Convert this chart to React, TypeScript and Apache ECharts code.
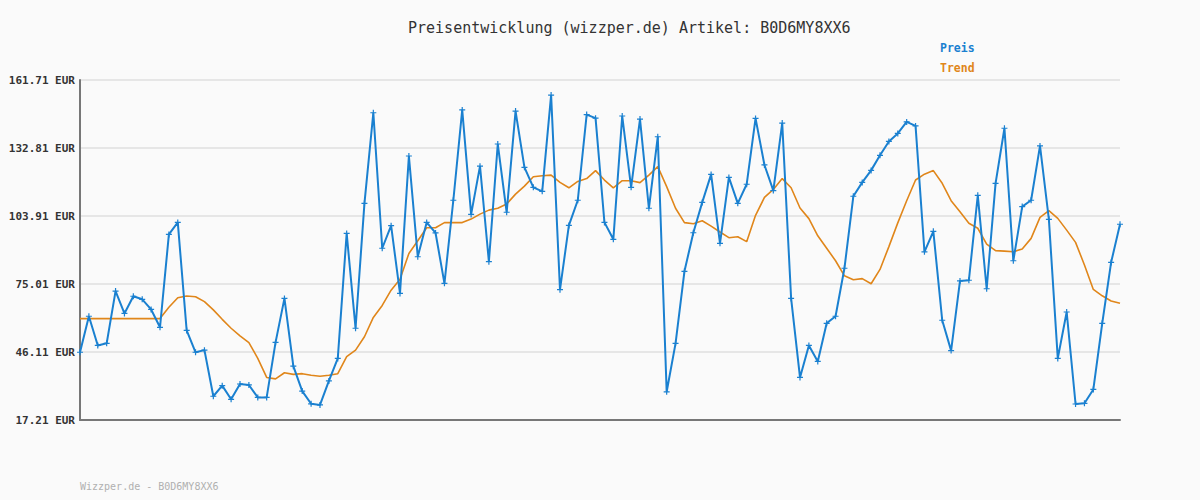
import React, { useEffect, useRef } from "react";
import * as echarts from "echarts";

const TITLE = "Preisentwicklung (wizzper.de) Artikel: B0D6MY8XX6";
const FOOTER = "Wizzper.de - B0D6MY8XX6";

const preis: number[] = [
  46.0, 61.3, 48.9, 49.8, 72.0, 62.5, 69.8, 68.5, 64.2, 56.6,
  96.1, 101.2, 55.3, 46.0, 46.9, 27.3, 31.8, 26.0, 32.5, 32.1,
  26.8, 26.8, 50.2, 68.9, 40.1, 29.5, 24.1, 23.6, 33.8, 43.4,
  96.5, 56.2, 109.3, 147.8, 90.2, 99.8, 71.0, 129.4, 86.6, 101.2,
  96.7, 75.3, 110.6, 149.0, 104.6, 125.1, 84.5, 134.5, 105.5, 148.5,
  124.6, 116.1, 114.4, 155.3, 72.6, 99.9, 110.6, 147.0, 145.5, 101.2,
  94.0, 146.4, 116.1, 145.1, 107.2, 137.6, 29.2, 49.8, 80.4, 96.8,
  109.7, 121.6, 92.3, 120.3, 109.3, 117.4, 145.4, 125.6, 114.7, 143.4,
  68.9, 35.3, 48.9, 42.1, 58.3, 61.3, 81.7, 112.3, 118.2, 123.3,
  129.7, 135.6, 139.0, 143.9, 142.2, 88.7, 97.4, 59.6, 46.7, 76.3,
  76.6, 112.7, 73.0, 117.8, 141.2, 84.9, 107.9, 110.6, 133.7, 102.5,
  43.4, 63.1, 24.0, 24.3, 30.2, 58.3, 84.2, 100.4,
];

const trend: number[] = [
  60.3, 60.3, 60.3, 60.3, 60.3, 60.3, 60.3, 60.3, 60.3, 60.3,
  65.1, 69.2, 69.9, 69.6, 67.5, 64.0, 60.0, 56.2, 53.0, 50.1,
  43.4, 35.3, 34.7, 37.3, 36.6, 36.9, 36.2, 35.8, 36.2, 36.9,
  44.1, 46.9, 52.6, 60.8, 65.9, 72.4, 77.0, 88.0, 93.4, 98.9,
  98.9, 101.1, 101.1, 101.1, 102.6, 104.7, 106.4, 107.2, 109.0, 113.2,
  116.6, 120.6, 121.0, 121.3, 118.2, 115.9, 118.6, 119.8, 123.2, 119.2,
  115.9, 118.9, 118.9, 118.1, 121.3, 124.9, 116.4, 107.2, 101.1, 100.6,
  101.9, 99.6, 97.1, 94.7, 95.1, 93.0, 104.2, 111.8, 115.2, 119.8,
  115.9, 107.3, 102.8, 95.5, 90.2, 84.9, 78.5, 76.8, 77.3, 75.1,
  81.2, 90.9, 101.0, 110.4, 119.2, 121.7, 123.2, 117.8, 110.4, 105.7,
  100.8, 98.7, 92.0, 89.2, 89.0, 88.7, 89.9, 94.4, 103.3, 106.2,
  102.9, 97.9, 92.7, 83.1, 72.7, 70.0, 67.8, 66.8,
];

const categories: string[] = preis.map((_, i) => String(i + 1));

const yTicks: number[] = [17.21, 46.11, 75.01, 103.91, 132.81, 161.71];
const seriesNames: string[] = ["Preis", "Trend"];

const MONO = "'DejaVu Sans Mono', 'Liberation Mono', monospace";
const BLUE = "#1a80d0";
const ORANGE = "#e0861a";

export default function App() {
  const ref = useRef<HTMLDivElement>(null);

  useEffect(() => {
    document.body.style.margin = "0";
    if (!ref.current) return;
    const chart = echarts.init(ref.current, null, { renderer: "svg" });
    chart.setOption({
      animation: false,
      backgroundColor: "#fafafa",
      title: {
        text: TITLE,
        left: 403,
        top: 15,
        textStyle: {
          fontFamily: MONO,
          fontSize: 15,
          fontWeight: "normal",
          color: "#333",
        },
      },
      legend: {
        orient: "vertical",
        left: 930,
        top: 37,
        itemWidth: 0,
        itemHeight: 0,
        itemGap: 8,
        icon: "rect",
        selectedMode: false,
        data: [
          { name: seriesNames[0], textStyle: { color: BLUE } },
          { name: seriesNames[1], textStyle: { color: ORANGE } },
        ],
        textStyle: {
          fontFamily: MONO,
          fontSize: 11.5,
          fontWeight: "bold",
        },
      },
      graphic: [
        {
          type: "text",
          left: 80,
          top: 481,
          style: {
            text: FOOTER,
            fill: "#b0b0b0",
            font: `10px ${MONO}`,
          },
        },
      ],
      grid: { left: 80, right: 80, top: 80, bottom: 80, containLabel: false },
      xAxis: {
        type: "category",
        data: categories,
        boundaryGap: false,
        axisLine: { show: true, lineStyle: { color: "#777", width: 2 } },
        axisTick: { show: false },
        axisLabel: { show: false },
        splitLine: { show: false },
      },
      yAxis: {
        type: "value",
        min: yTicks[0],
        max: yTicks[yTicks.length - 1],
        axisLine: { show: true, lineStyle: { color: "#777", width: 2 } },
        axisTick: { show: false, customValues: yTicks },
        axisLabel: {
          customValues: yTicks,
          formatter: (v: number) => `${v.toFixed(2)} EUR`,
          fontFamily: MONO,
          fontSize: 11,
          fontWeight: "bold",
          color: "#333",
          margin: 5,
        },
        splitLine: { show: true, lineStyle: { color: "#e6e6e6", width: 2 } },
      },
      series: [
        {
          name: seriesNames[1],
          type: "line",
          data: trend,
          showSymbol: false,
          symbol: "none",
          lineStyle: { color: ORANGE, width: 1.6 },
          itemStyle: { color: ORANGE },
          z: 2,
        },
        {
          name: seriesNames[0],
          type: "line",
          data: preis,
          symbol: "path://M2,0H3V2H5V3H3V5H2V3H0V2H2Z",
          symbolSize: 6,
          showAllSymbol: true,
          lineStyle: { color: BLUE, width: 2 },
          itemStyle: { color: BLUE },
          z: 3,
        },
      ],
    });
    return () => chart.dispose();
  }, []);

  return (
    <div
      ref={ref}
      style={{ position: "absolute", left: 0, top: 0, width: 1200, height: 500 }}
    />
  );
}
